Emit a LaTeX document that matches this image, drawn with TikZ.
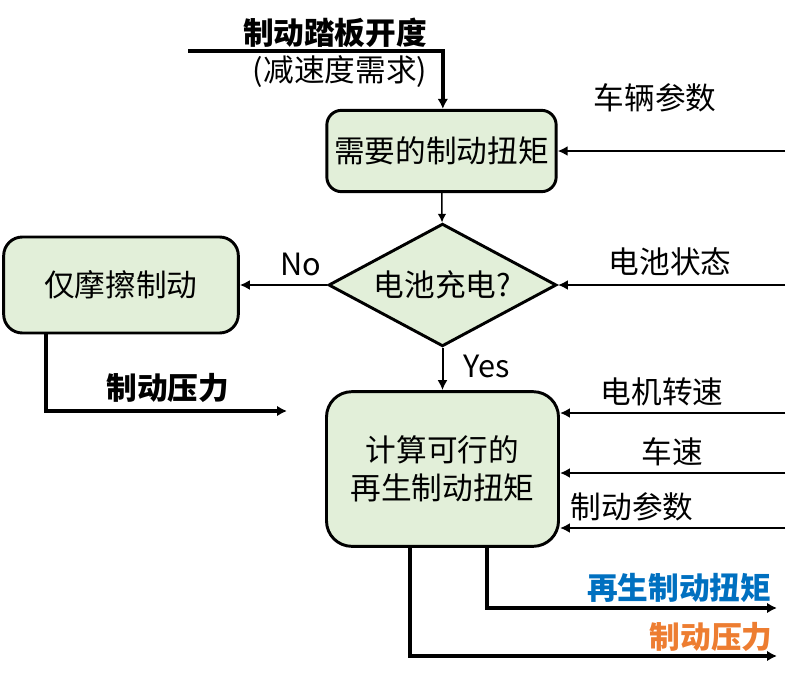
\documentclass[tikz,border=0pt]{standalone}
\usepackage{fontspec}
\setmainfont{Noto Sans CJK SC}
\usetikzlibrary{shapes.geometric,arrows.meta}
\definecolor{boxgreen}{RGB}{226,239,217}
\definecolor{outblue}{RGB}{0,112,192}
\definecolor{outorange}{RGB}{237,125,49}
\begin{document}
\begin{tikzpicture}[x=0.75pt,y=-0.75pt,
  font=\fontsize{23}{28.5}\selectfont,
  blk/.style={draw,line width=2.2pt,fill=boxgreen,inner sep=0pt,align=center},
  thickline/.style={line width=2.6pt,-{Latex[length=7.5pt,width=8pt]}},
  inline/.style={line width=1.5pt,-{Latex[length=7.5pt,width=7.5pt]}},
  thinline/.style={line width=1.1pt,-{Latex[length=6.5pt,width=6.5pt]}}]
\useasboundingbox (0,0) rectangle (794,675);
% boxes
\node[blk,rounded corners=11pt,minimum width=172pt,minimum height=61pt] (need) at (441.5,151) {需要的制动扭矩};
\node[blk,diamond,shape aspect=1.83,minimum width=171pt,minimum height=92pt] (batt) at (442.5,285) {电池充电?};
\node[blk,rounded corners=14pt,minimum width=176pt,minimum height=72pt] (fric) at (121,285) {仅摩擦制动};
\node[blk,rounded corners=19pt,minimum width=174pt,minimum height=116pt] (regen) at (442.5,469) {计算可行的\\再生制动扭矩};
% free ends
\coordinate (pedal) at (188,51);
\coordinate (vehpar) at (785,151);
\coordinate (battst) at (785,285);
\coordinate (motspd) at (785,413);
\coordinate (vspd) at (785,473);
\coordinate (brkpar) at (785,528);
\coordinate (fricout) at (287,411);
\coordinate (torqout) at (777,608);
\coordinate (presout) at (777,656);
% labels
\node[font=\fontsize{23}{28.5}\selectfont\bfseries] (pedlbl) at (335,33) {制动踏板开度};
\node (declbl) at (340,72) {(减速度需求)};
\node (vehlbl) at (655,98) {车辆参数};
\node (battlbl) at (670,262) {电池状态};
\node (motlbl) at (662,392) {电机转速};
\node (vlbl) at (672,452) {车速};
\node (parlbl) at (632,507) {制动参数};
\node[font=\fontsize{23}{28.5}\selectfont\bfseries] (friclbl) at (168,388) {制动压力};
\node[font=\fontsize{23}{28.5}\selectfont\bfseries,text=outblue] (torqlbl) at (679,588) {再生制动扭矩};
\node[font=\fontsize{23}{28.5}\selectfont\bfseries,text=outorange] (preslbl) at (711,637) {制动压力};
% connectors
\draw[thickline] (pedal) -| ([xshift=1pt]need.north);
\draw[thinline] (need) -- (batt);
\draw[inline] (vehpar) -- (need);
\draw[inline] (battst) -- (batt);
\draw[inline] (batt) -- node[pos=0.3,above=3pt] {No} (fric);
\draw[inline] (batt) -- node[pos=0.45,right=12pt] {Yes} (regen);
\draw[thickline] ([xshift=33pt]fric.south west) |- (fricout);
\draw[inline] (motspd) -- (motspd -| regen.east);
\draw[inline] (vspd) -- (vspd -| regen.east);
\draw[inline] (brkpar) -- (brkpar -| regen.east);
\draw[thickline] ([xshift=121.5pt]regen.south west) |- (torqout);
\draw[thickline] ([xshift=63.75pt]regen.south west) |- (presout);
\end{tikzpicture}
\end{document}
